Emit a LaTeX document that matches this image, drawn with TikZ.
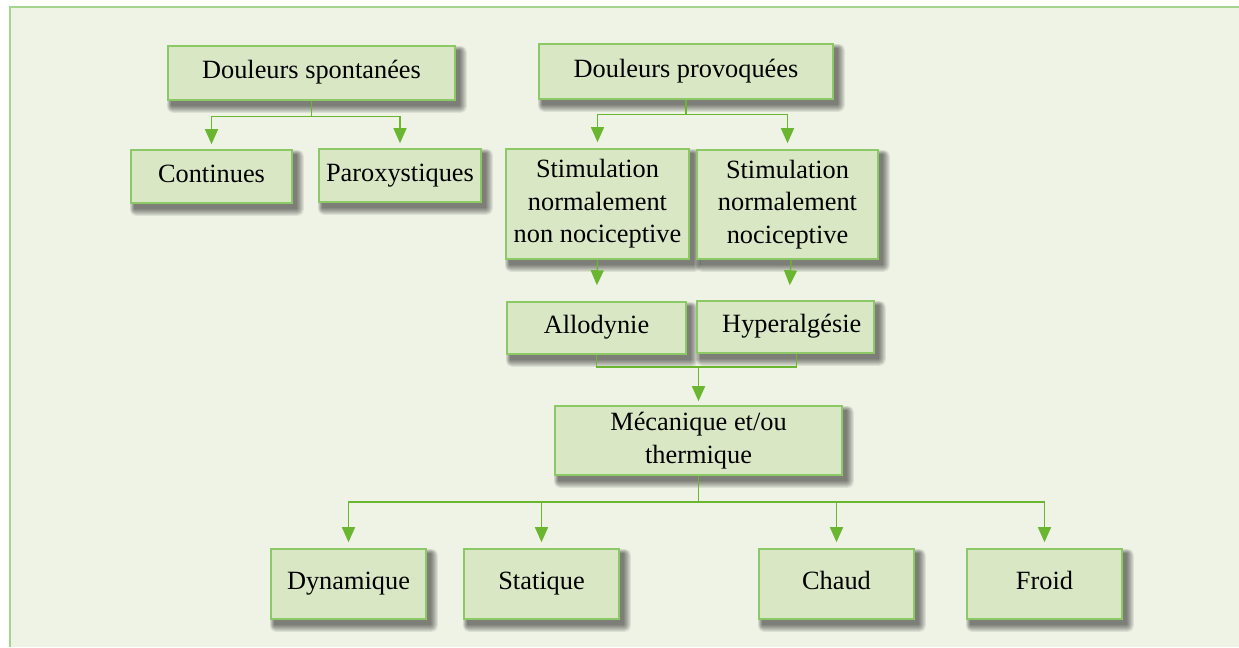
\documentclass[tikz,border=0pt]{standalone}
\usepackage{fontspec}
\setmainfont{Liberation Serif}
\usetikzlibrary{arrows.meta}
\usetikzlibrary{backgrounds, calc, positioning}
\definecolor{fond}{HTML}{EEF3E5}
\definecolor{cadre}{HTML}{A5D48C}
\definecolor{boitefond}{HTML}{DAE7C5}
\definecolor{boitebord}{HTML}{8CC866}
\definecolor{vert}{HTML}{6AB630}
\tikzset{
    boite/.style={draw=boitebord, fill=boitefond, line width=0.9pt, align=center,
        inner sep=2pt, font=\fontsize{15}{18.5}\selectfont
    },
    ligne/.style={boite, text height=2ex, text depth=0.6ex},
    trait/.style={draw=vert, line width=0.8pt},
    fleche/.style={trait, -{Triangle[length=3mm, width=2.6mm]}, shorten >=#1},
    fleche/.default={0.1cm}
}
\newcommand{\ombre}[1]{%
    \foreach \k in {0,...,7}{
    \fill[black, opacity=0.075, rounded corners=\k*0.5pt] ($(#1.south west)+(4-0.6*\k,5+\k)$) rectangle ($(#1.north east)+(4+\k,5-0.6*\k)$);}}

\begin{document}
\begin{tikzpicture}[x=0.02cm, y=-0.02cm]
    \useasboundingbox (0,0) rectangle (1239,647);
    % spontanees
    \node[ligne, minimum width=5.74cm, minimum height=1.08cm] (spont) at (311.5,73) {Douleurs spontanées};
    \node[ligne, minimum width=3.22cm, minimum height=1.06cm] (cont) at (211.5,176.5) {Continues};
    \node[ligne, minimum width=3.24cm, minimum height=1.06cm] (parox) at (400,175.5) {Paroxystiques};
    % provoquees
    \node[ligne, minimum width=5.88cm, minimum height=1.1cm] (provo) at (686,71.5) {Douleurs provoquées};
    \node[boite, minimum width=3.66cm, minimum height=2.2cm] (stimA) at (597.5,204) {Stimulation\\normalement\\non nociceptive};
    \node[boite, minimum width=3.62cm, minimum height=2.18cm] (stimB) at (787.5,204.5) {Stimulation\\normalement\\nociceptive};
    \node[ligne, minimum width=3.58cm, minimum height=1.04cm] (allo) at (596.5,328) {Allodynie};
    \node[ligne, minimum width=3.54cm, minimum height=1.04cm] (hyper) at (785.5,327) {\hspace{0.25cm}Hyperalgésie};
    \node[boite, minimum width=5.74cm, minimum height=1.38cm] (meca) at (698.5,440.5) {Mécanique et/ou\\thermique};
    \node[ligne, minimum width=3.1cm, minimum height=1.4cm] (dyn) at (348.5,584) {Dynamique};
    \node[ligne, minimum width=3.1cm, minimum height=1.4cm] (stat) at (541.5,584) {Statique};
    \node[ligne, minimum width=3.1cm, minimum height=1.4cm] (chaud) at (836.5,584) {Chaud};
    \node[ligne, minimum width=3.1cm, minimum height=1.4cm] (froid) at (1044.5,584) {Froid};
    % fond et ombres
    \begin{scope}[on background layer]
    \fill[fond] (10,7) rectangle (1239,647);
    \draw[cadre, line width=1.1pt] (10,647) -- (10,7) -- (1239,7);
    \foreach \b in {spont, cont, parox, provo, stimA, stimB, allo, hyper, meca, dyn, stat, chaud, froid}{
    \ombre{\b}}
    \end{scope}
    % fleches
    \draw[fleche] (spont.south) -- ++(0,16) -| (cont.north);
    \draw[fleche] (spont.south) -- ++(0,16) -| (parox.north);
    \draw[fleche=0.12cm] (provo.south) -- ++(0,15) -| (stimA.north);
    \draw[fleche=0.12cm] (provo.south) -- ++(0,15) -| (stimB.north);
    \draw[fleche=0.32cm] (stimA.south) -- (allo.north);
    \draw[fleche=0.3cm] ([xshift=3.5*0.02cm]stimB.south) -- ([xshift=3.5*0.02cm]hyper.north);
    \draw[trait] (allo.south) -- ++(0,12) -| ([xshift=11*0.02cm]hyper.south);
    \draw[fleche=0.08cm] (allo.south) ++(0,12) -| (meca.north);
    \foreach \b in {dyn, stat, chaud, froid}{
    \draw[fleche=0.12cm] (meca.south) -- ++(0,26) -| (\b.north);}
\end{tikzpicture}
\end{document}
